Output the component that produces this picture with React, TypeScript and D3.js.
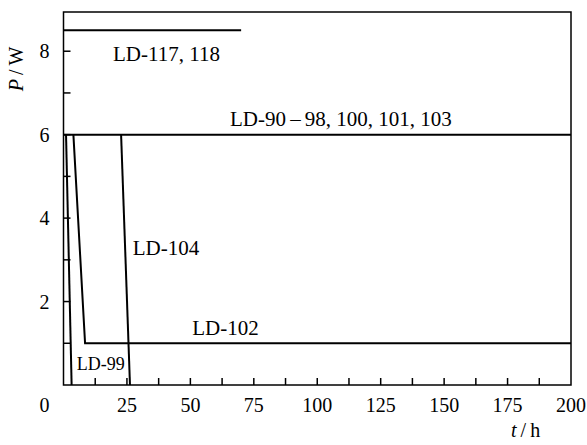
import { useEffect, useRef } from 'react';
import * as d3 from 'd3';

// curves: [t (h), P (W)]
const ld117 = [[0, 8.5], [70, 8.5]];
const ld90 = [[0, 6], [200, 6]];
const ld99 = [[1, 6], [3.2, 0]];
const ld102 = [[3.9, 6], [8.5, 1], [200, 1]];
const ld104 = [[22.7, 6], [26.2, 0]];

const xTickLabels = [25, 50, 75, 100, 125, 150, 175, 200];
const yTickLabels = [2, 4, 6, 8];

// annotations, anchored in data units
const labelText = ['LD-117, 118', 'LD-90\u2009\u2013\u200998, 100, 101, 103', 'LD-104', 'LD-102', 'LD-99'];
const labelT = [19.5, 65.6, 27.3, 50.7, 5.2];
const labelP = [7.77, 6.21, 3.12, 1.2, 0.36];
const labelSize = [21, 21, 21, 21, 18];

export default function App() {
  const ref = useRef<SVGSVGElement>(null);

  useEffect(() => {
    const width = 587, height = 445;
    const margin = { top: 12, right: 16, bottom: 60, left: 64 };
    const font = 'Liberation Serif, Tinos, DejaVu Serif, serif';

    const svg = d3.select(ref.current);
    svg.selectAll('*').remove();

    const x = d3.scaleLinear().domain([0, 200]).range([margin.left - 0.5, width - margin.right]);
    const y = d3.scaleLinear().domain([0, 8.94]).range([height - margin.bottom, margin.top]);

    const g = svg.append('g').style('font-family', font);

    // inward ticks
    const xTicks = d3.range(12.5, 200, 12.5);
    g.selectAll('.xt')
      .data(xTicks)
      .enter().append('line')
      .attr('x1', d => x(d)).attr('x2', d => x(d))
      .attr('y1', y(0)).attr('y2', y(0) - 7)
      .attr('stroke', '#000').attr('stroke-width', 1.5);

    const yTicks = d3.range(1, 9, 1);
    g.selectAll('.yt')
      .data(yTicks)
      .enter().append('line')
      .attr('x1', x(0)).attr('x2', x(0) + 7)
      .attr('y1', d => y(d)).attr('y2', d => y(d))
      .attr('stroke', '#000').attr('stroke-width', 1.5);

    // tick labels
    g.selectAll('.xl')
      .data(xTickLabels)
      .enter().append('text')
      .attr('x', d => x(d))
      .attr('y', y(0) + 27)
      .attr('text-anchor', 'middle')
      .attr('font-size', 20)
      .text(d => d);

    g.append('text')
      .attr('x', x(0) - 19)
      .attr('y', y(0) + 27)
      .attr('text-anchor', 'middle')
      .attr('font-size', 20)
      .text('0');

    g.selectAll('.yl')
      .data(yTickLabels)
      .enter().append('text')
      .attr('x', x(0) - 19)
      .attr('y', d => y(d) + 7)
      .attr('text-anchor', 'middle')
      .attr('font-size', 20)
      .text(d => d);

    // curves
    const line = d3.line<number[]>().x(d => x(d[0])).y(d => y(d[1]));
    [ld117, ld90, ld99, ld102, ld104].forEach(s => {
      g.append('path')
        .attr('d', line(s))
        .attr('fill', 'none')
        .attr('stroke', '#000')
        .attr('stroke-width', 2);
    });

    // frame
    g.append('rect')
      .attr('x', x(0))
      .attr('y', y(8.94))
      .attr('width', x(200) - x(0))
      .attr('height', y(0) - y(8.94))
      .attr('fill', 'none')
      .attr('stroke', '#000')
      .attr('stroke-width', 1.5);

    // annotations
    labelText.forEach((t, i) => {
      g.append('text')
        .attr('x', x(labelT[i]))
        .attr('y', y(labelP[i]))
        .attr('font-size', labelSize[i])
        .text(t);
    });

    // axis titles
    const yt = g.append('text')
      .attr('transform', `translate(23,69) rotate(-90)`)
      .attr('text-anchor', 'middle')
      .attr('font-size', 20);
    yt.append('tspan').attr('font-style', 'italic').text('P');
    yt.append('tspan').text('\u2009/\u2009W');

    const xt = g.append('text')
      .attr('x', 511)
      .attr('y', 437)
      .attr('font-size', 20);
    xt.append('tspan').attr('font-style', 'italic').text('t');
    xt.append('tspan').text('\u2009/\u2009h');
  }, []);

  return (
    <div style={{ position: 'absolute', left: 0, top: 0 }}>
      <svg ref={ref} width={587} height={445} style={{ display: 'block', background: '#fff' }} />
    </div>
  );
}
